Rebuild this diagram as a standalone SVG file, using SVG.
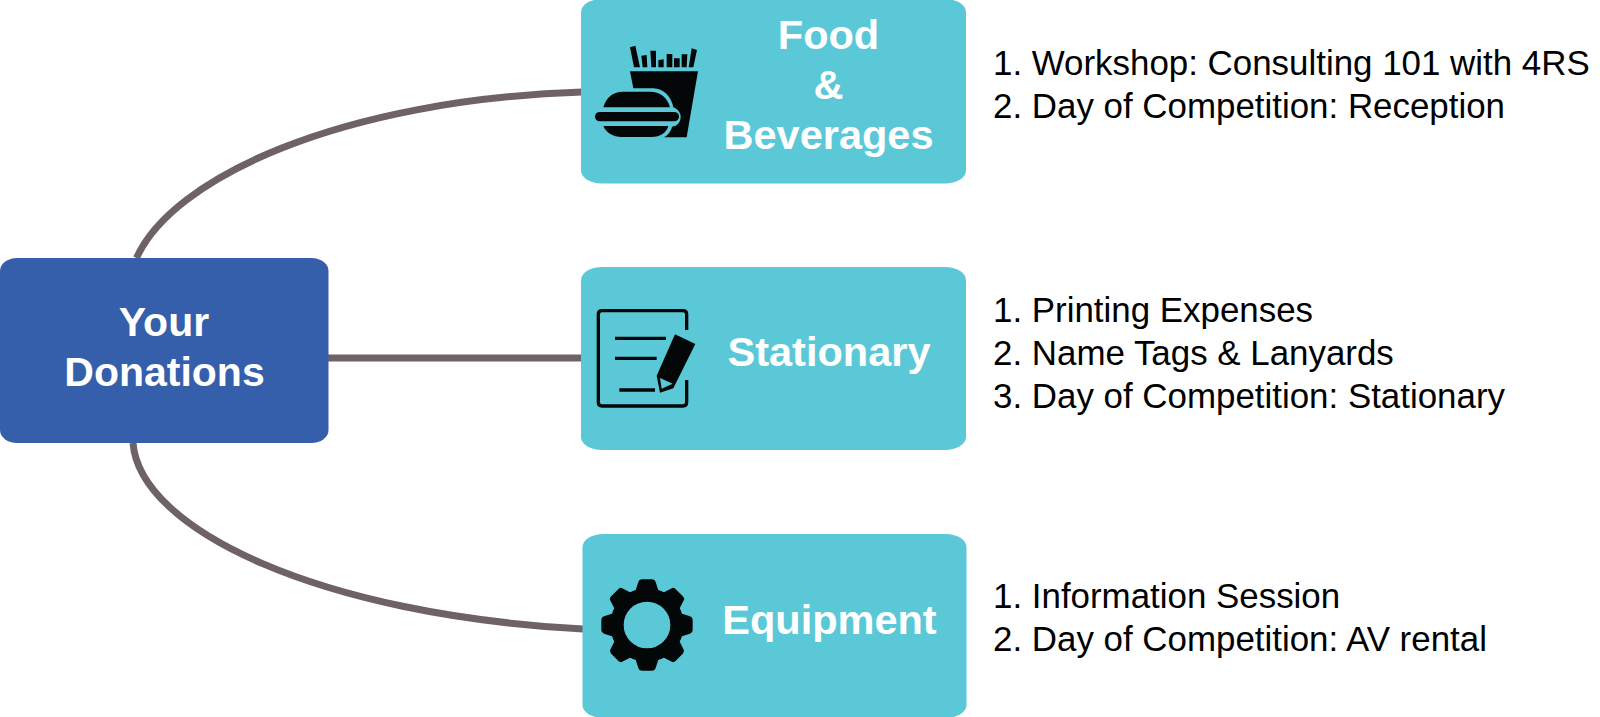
<svg xmlns="http://www.w3.org/2000/svg" width="1600" height="717" viewBox="0 0 1600 717">
<style>
.conn{fill:none;stroke:#6E6268;stroke-width:7}
.box{fill:#5BC8D7}
.hub{fill:#355EAB}
.t{font-family:"Liberation Sans",Arial,sans-serif;font-weight:700;fill:#fff;text-anchor:middle;font-size:41.5px}
.l{font-family:"Liberation Sans",Arial,sans-serif;fill:#000;font-size:34.9px}
.i{fill:#040708}
.s{fill:none;stroke:#040708;stroke-width:10}
</style>
<defs><path id="tooth" d="M-36 -98L-26 -129Q-24 -137 -16 -137H16Q24 -137 26 -129L36 -98Z"/></defs>
<rect width="1600" height="717" fill="#fff"/>
<g id="connectors">
<path class="conn" d="M136.500 258C172 178 340 100 582 92"/>
<path class="conn" d="M328 358H582"/>
<path class="conn" d="M133 443C140 530 320 615 583 629"/>
</g>
<g id="hub"><rect class="hub" x="0" y="258" width="328.500" height="185" rx="17" ry="13"/>
<text class="t" style="font-size:41px" x="164" y="336">Your</text><text class="t" style="font-size:41px" x="164.500" y="386">Donations</text></g>
<g id="food"><rect class="box" x="581" y="-1" width="385" height="184.500" rx="21" ry="13"/>
<g transform="translate(560 0) scale(.33333)" class="i">
<path d="M210 142L226 137L240 202H222ZM244 167L260 165L262 202H248ZM271 152H288V202H274ZM295 180L311 178V202H295ZM320 162H337V202H320ZM342 175H359V202H342ZM365 163H382L380 202H365ZM395 145L411 150L400 202H386Z"/>
<path d="M210 214H414L380 412H310C322 408 332 396 336 380C352 378 362 366 362 350C362 338 354 328 340 322C334 290 310 265 280 265H220Z"/>
<path d="M130 322C138 292 160 275 190 275H270C300 275 322 292 330 322Z"/>
<rect x="105" y="336" width="252" height="28" rx="14"/>
<path d="M130 378H325C320 398 300 411 275 411H185C160 411 138 398 130 378Z"/>
</g>
<text class="t" x="828.500" y="48.500">Food</text><text class="t" x="828.500" y="98.500">&amp;</text><text class="t" x="828.500" y="149">Beverages</text></g>
<g id="stationary"><rect class="box" x="581" y="267" width="385" height="183" rx="21" ry="13"/>
<g transform="translate(560 280) scale(.33333)">
<path class="s" stroke-linejoin="round" d="M380 150V103Q380 92 369 92H126Q115 92 115 103V367Q115 378 126 378H369Q380 378 380 367V300"/>
<path class="s" d="M165 175H318M165 235H290M178 330H285"/>
<path class="box" d="M340 150L420 188L350 335L292 350L275 285Z"/>
<path class="i" d="M345 163L406 192L340 325L300 338L290 287Z"/>
<path class="box" d="M300 294L338 311L305 326Z"/>
</g>
<text class="t" x="829" y="366">Stationary</text></g>
<g id="equipment"><rect class="box" x="582.500" y="534" width="384" height="184" rx="21" ry="13"/>
<g transform="translate(647 625) scale(.33333)" class="i">
<circle r="90" fill="none" stroke="#040708" stroke-width="40"/>
<use href="#tooth"/><use href="#tooth" transform="rotate(45)"/><use href="#tooth" transform="rotate(90)"/><use href="#tooth" transform="rotate(135)"/><use href="#tooth" transform="rotate(180)"/><use href="#tooth" transform="rotate(225)"/><use href="#tooth" transform="rotate(270)"/><use href="#tooth" transform="rotate(315)"/>
</g>
<text class="t" x="829.500" y="634">Equipment</text></g>
<g id="list-food"><text class="l" x="993" y="75">1. Workshop: Consulting 101 with 4RS</text><text class="l" x="993" y="118">2. Day of Competition: Reception</text></g>
<g id="list-stationary"><text class="l" x="993" y="322">1. Printing Expenses</text><text class="l" x="993" y="365">2. Name Tags &amp; Lanyards</text><text class="l" x="993" y="408">3. Day of Competition: Stationary</text></g>
<g id="list-equipment"><text class="l" x="993" y="608">1. Information Session</text><text class="l" x="993" y="651">2. Day of Competition: AV rental</text></g>
</svg>
